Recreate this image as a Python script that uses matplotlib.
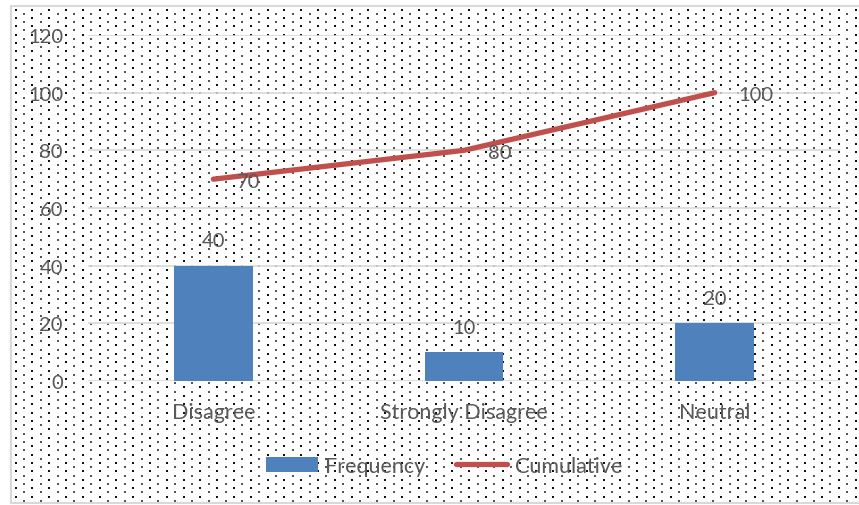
import matplotlib.pyplot as plt
from matplotlib.patches import Rectangle
import numpy as np

categories = ["Disagree", "Strongly Disagree", "Neutral"]
frequency = [40, 10, 20]
cumulative = [70, 80, 100]
y_ticks = [0, 20, 40, 60, 80, 100, 120]

bar_color = "#4f81bd"
line_color = "#c0504d"
text_color = "#595959"
grid_color = "#d9d9d9"

plt.rcParams['font.family'] = ['Lato', 'DejaVu Sans']

W, H = 859, 506
fig = plt.figure(figsize=(W / 100, H / 100), dpi=100)

# background: dotted pattern inside a light grey border
bg = fig.add_axes([0, 0, 1, 1], zorder=0)
bg.set_xlim(0, W)
bg.set_ylim(H, 0)
bg.axis('off')
bg.add_patch(Rectangle((11, 7), W, 497, facecolor='white', edgecolor=grid_color, lw=1.5))
dx, dy = 8.4, 4.2
strong_x, strong_y, weak_x, weak_y = [], [], [], []
for j, yy in enumerate(np.arange(10, 503, dy)):
    yy = np.floor(yy) + 0.5
    if j % 2 == 0:
        for xx in np.arange(15, W, 2 * dx):
            strong_x.append(np.floor(xx) + 0.5)
            strong_y.append(yy)
    else:
        for xx in np.arange(15 + dx, W, 2 * dx):
            weak_x.append(np.floor(xx) + 0.5)
            weak_y.append(yy)
bg.scatter(strong_x, strong_y, s=2.0, marker='s', color='#111111', linewidths=0)
bg.scatter(weak_x, weak_y, s=1.0, marker='s', color='#555555', linewidths=0)

ax = fig.add_axes([88 / W, 1 - 382 / H, 752 / W, 346 / H], zorder=1)
ax.patch.set_alpha(0)
x = np.arange(len(categories))

bars = ax.bar(x, frequency, width=0.315, color=bar_color, zorder=3, label="Frequency")
line, = ax.plot(x, cumulative, color=line_color, lw=3.8, solid_capstyle='round', zorder=4, label="Cumulative")

num_size = 14.5
txt_size = 15.5
for xi, v in zip(x, frequency):
    ax.annotate(str(v), (xi, v), xytext=(0, 18), textcoords='offset points',
                ha='center', va='center', fontsize=num_size, color=text_color, zorder=5)
for xi, v in zip(x, cumulative):
    ax.annotate(str(v), (xi, v), xytext=(17, -1.5), textcoords='offset points',
                ha='left', va='center', fontsize=num_size, color=text_color, zorder=5)

ax.set_xlim(-0.5, 2.5)
ax.set_ylim(0, 120)
ax.set_yticks(y_ticks)
ax.set_xticks(x)
ax.set_xticklabels(categories, fontsize=txt_size)
ax.tick_params(axis='both', length=0, labelcolor=text_color)
ax.tick_params(axis='y', pad=18, labelsize=num_size)
ax.tick_params(axis='x', pad=15)
ax.grid(axis='y', color=grid_color, lw=1.2, zorder=1)
for s in ax.spines.values():
    s.set_visible(False)

leg = fig.legend(handles=[bars, line], loc='center', bbox_to_anchor=(444 / W, 1 - 467 / H), ncol=2,
                 frameon=False, fontsize=txt_size, handlelength=2.4, handleheight=0.7,
                 handletextpad=0.35, columnspacing=1.4)
for t in leg.get_texts():
    t.set_color(text_color)

fig.savefig("out.png", dpi=100)
